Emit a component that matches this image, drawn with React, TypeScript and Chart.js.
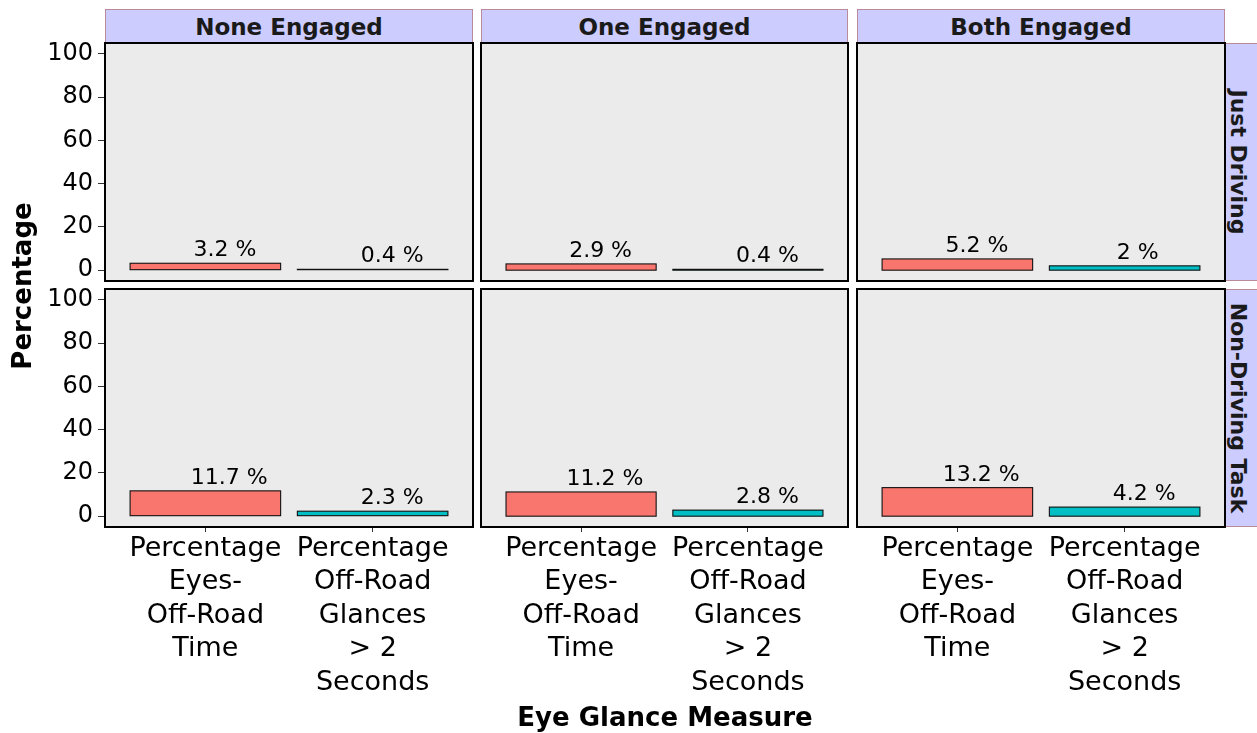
import React, { useEffect, useRef } from "react";
import { Chart, registerables } from "chart.js";

Chart.register(...registerables);

const FAMILY = '"DejaVu Sans", sans-serif';

// ---- data ----
const engagementLevels = ["None Engaged", "One Engaged", "Both Engaged"];
const taskConditions = ["Just Driving", "Non-Driving Task"];
const glanceMeasures = [
  ["Percentage", "Eyes-", "Off-Road", "Time"],
  ["Percentage", "Off-Road", "Glances", "> 2", "Seconds"],
];
const justDrivingEyesOffRoad = [3.2, 2.9, 5.2];
const justDrivingLongGlances = [0.4, 0.4, 2];
const nonDrivingEyesOffRoad = [11.7, 11.2, 13.2];
const nonDrivingLongGlances = [2.3, 2.8, 4.2];
const yTickValues = [0, 20, 40, 60, 80, 100];
const measureColors = ["#F8766D", "#00BFC4"];

// ---- layout ----
const W = 1257;
const H = 733;
const COLS = [
  [105, 473],
  [481, 848],
  [857, 1225],
];
const ROWS = [
  [43, 281],
  [289, 527],
];
const PAD = 3;

const panelPlugin = {
  id: "panelBox",
  beforeDatasetsDraw(chart: any) {
    const { ctx, chartArea: a } = chart;
    ctx.save();
    ctx.fillStyle = "#EBEBEB";
    ctx.fillRect(a.left, a.top, a.right - a.left, a.bottom - a.top);
    ctx.restore();
  },
  afterDatasetsDraw(chart: any) {
    const { ctx, chartArea: a } = chart;
    const meta = chart.getDatasetMeta(0);
    const data = chart.data.datasets[0].data;
    ctx.save();
    // bar outlines (centred on the bar edges)
    ctx.strokeStyle = "#111";
    ctx.lineWidth = 1.1;
    meta.data.forEach((bar: any) => {
      const p = bar.getProps(["x", "y", "base", "width"], true);
      ctx.strokeRect(p.x - p.width / 2, p.y, p.width, p.base - p.y);
    });
    // panel border
    ctx.strokeStyle = "#000";
    ctx.lineWidth = 2;
    ctx.strokeRect(a.left, a.top, a.right - a.left, a.bottom - a.top);
    // value labels
    ctx.font = `22px ${FAMILY}`;
    ctx.fillStyle = "#000";
    ctx.textAlign = "left";
    ctx.textBaseline = "alphabetic";
    meta.data.forEach((bar: any, i: number) => {
      const txt = `${data[i].y} %`;
      const w = ctx.measureText(txt).width;
      ctx.fillText(txt, bar.x - 0.19 * w, bar.y - 7);
    });
    ctx.restore();
  },
};

function Panel({ row, col }: { row: number; col: number }) {
  const ref = useRef<HTMLCanvasElement>(null);
  const left = col === 0 ? 0 : COLS[col][0] - PAD;
  const right = COLS[col][1] + PAD;
  const top = ROWS[row][0] - PAD;
  const bottom = row === 1 ? H : ROWS[row][1] + PAD;
  const w = right - left;
  const h = bottom - top;
  const showX = row === 1;
  const showY = col === 0;

  useEffect(() => {
    const eyes = row === 0 ? justDrivingEyesOffRoad : nonDrivingEyesOffRoad;
    const longG = row === 0 ? justDrivingLongGlances : nonDrivingLongGlances;
    const values = [eyes[col], longG[col]];
    const chart = new Chart(ref.current as HTMLCanvasElement, {
      type: "bar",
      data: {
        datasets: [
          {
            data: values.map((v, i) => ({ x: i, y: v })),
            backgroundColor: measureColors,
            borderWidth: 0,
            borderSkipped: false,
            categoryPercentage: 1,
            barPercentage: 0.9,
          } as any,
        ],
      },
      options: {
        responsive: false,
        animation: false,
        events: [],
        layout: {
          padding: {
            left: showY ? 0 : PAD,
            right: PAD,
            top: PAD,
            bottom: showX ? 0 : PAD,
          },
        },
        plugins: {
          legend: { display: false },
          tooltip: { enabled: false },
          title: { display: false },
        },
        scales: {
          x: {
            type: "linear",
            min: -0.6,
            max: 1.6,
            offset: false,
            display: showX,
            afterBuildTicks: (s: any) => {
              s.ticks = glanceMeasures.map((_, i) => ({ value: i }));
            },
            afterFit: (s: any) => {
              s.height = showX ? H - ROWS[1][1] : 0;
              s.paddingLeft = 0;
              s.paddingRight = 0;
            },
            ticks: {
              callback: (_v: any, i: number) => glanceMeasures[i],
              font: { family: FAMILY, size: 27, lineHeight: "33.5px" },
              color: "#000",
              padding: 0,
              maxRotation: 0,
              minRotation: 0,
              autoSkip: false,
            },
            grid: {
              offset: false,
              drawOnChartArea: false,
              drawTicks: true,
              tickLength: 5,
              color: "#333",
              lineWidth: 1,
            },
            border: { display: false },
          },
          y: {
            type: "linear",
            min: -5,
            max: 105,
            display: showY,
            afterBuildTicks: (s: any) => {
              s.ticks = yTickValues.map((v) => ({ value: v }));
            },
            afterFit: (s: any) => {
              s.width = showY ? COLS[0][0] : 0;
              s.paddingTop = 0;
              s.paddingBottom = 0;
            },
            ticks: {
              callback: (v: any) => String(v),
              font: { family: FAMILY, size: 24 },
              color: "#000",
              padding: 5,
            },
            grid: {
              drawOnChartArea: false,
              drawTicks: true,
              tickLength: 7,
              color: "#333",
              lineWidth: 1,
            },
            border: { display: false },
          },
        },
      } as any,
      plugins: [panelPlugin],
    });
    return () => chart.destroy();
  }, [row, col]);

  return (
    <canvas
      ref={ref}
      width={w}
      height={h}
      style={{ position: "absolute", left, top, width: w, height: h }}
    />
  );
}

const STRIP_BG = "#CCCCFF";
const STRIP_BORDER = "#B98A9A";

export default function App() {
  const panels = [];
  for (let r = 0; r < 2; r++)
    for (let c = 0; c < 3; c++) panels.push(<Panel key={`${r}-${c}`} row={r} col={c} />);

  return (
    <div
      style={{
        position: "absolute",
        left: 0,
        top: 0,
        width: W,
        height: H,
        overflow: "hidden",
        background: "#fff",
        fontFamily: FAMILY,
      }}
    >
      {engagementLevels.map((lab, c) => (
        <div
          key={lab}
          style={{
            position: "absolute",
            left: COLS[c][0],
            top: 9,
            width: COLS[c][1] - COLS[c][0] - 2,
            height: 34,
            background: STRIP_BG,
            borderTop: `1px solid ${STRIP_BORDER}`,
            borderLeft: `1px solid ${STRIP_BORDER}`,
            borderRight: `1px solid ${STRIP_BORDER}`,
            textAlign: "center",
            lineHeight: "34px",
            fontSize: 23,
            fontWeight: "bold",
            color: "#1A1A1A",
            boxSizing: "content-box",
          }}
        >
          {lab}
        </div>
      ))}
      {taskConditions.map((lab, r) => {
        const t = ROWS[r][0];
        const hgt = ROWS[r][1] - ROWS[r][0];
        const mid = (ROWS[r][0] + ROWS[r][1]) / 2;
        return (
          <React.Fragment key={lab}>
            <div
              style={{
                position: "absolute",
                left: COLS[2][1],
                top: t,
                width: 40,
                height: hgt - 2,
                background: STRIP_BG,
                border: `1px solid ${STRIP_BORDER}`,
              }}
            />
            <div
              style={{
                position: "absolute",
                left: 1238 - hgt / 2,
                top: mid - 16,
                width: hgt,
                height: 32,
                lineHeight: "32px",
                textAlign: "center",
                fontSize: 22,
                fontWeight: "bold",
                color: "#1A1A1A",
                transform: "rotate(90deg)",
                whiteSpace: "nowrap",
              }}
            >
              {lab}
            </div>
          </React.Fragment>
        );
      })}
      {panels}
      <div
        style={{
          position: "absolute",
          left: 22 - 150,
          top: 286 - 15,
          width: 300,
          height: 30,
          lineHeight: "30px",
          textAlign: "center",
          fontSize: 26,
          fontWeight: "bold",
          color: "#000",
          transform: "rotate(-90deg)",
        }}
      >
        Percentage
      </div>
      <div
        style={{
          position: "absolute",
          left: 665 - 300,
          top: 702,
          width: 600,
          height: 30,
          lineHeight: "30px",
          textAlign: "center",
          fontSize: 26,
          fontWeight: "bold",
          color: "#000",
        }}
      >
        Eye Glance Measure
      </div>
    </div>
  );
}
